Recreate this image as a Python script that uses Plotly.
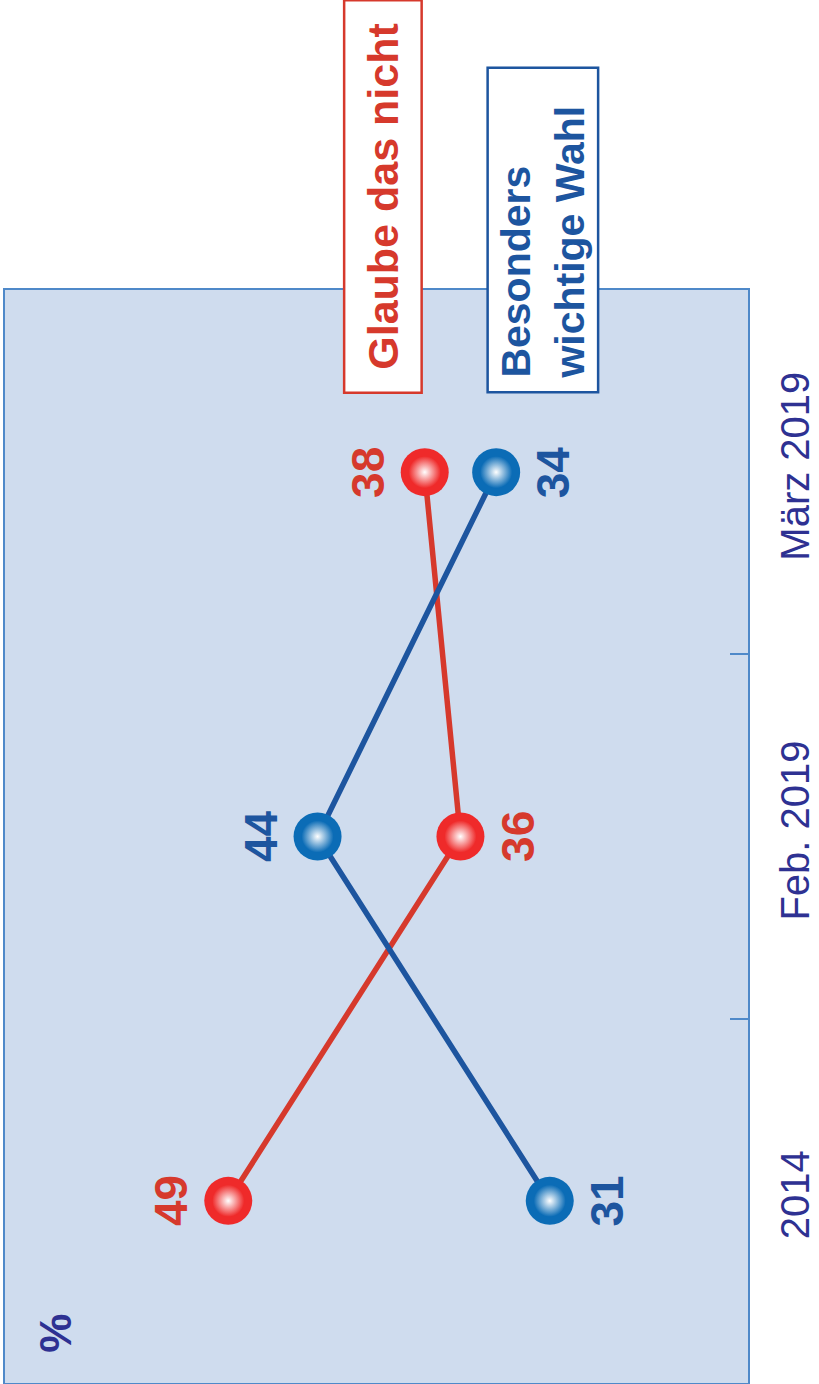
import plotly.graph_objects as go

categories = ["2014", "Feb. 2019", "März 2019"]
glaube_nicht = [49, 36, 38]
wichtige_wahl = [31, 44, 34]

RED_LINE = "#d6392c"
RED_MARK = "#ef2a2a"
BLUE_LINE = "#1d559f"
BLUE_MARK = "#0b6cb6"
TICK_COL = "#2e3192"
FRAME = "#4f89c9"

fig = go.Figure()

def add_series(vals, line_col, mark_col):
    fig.add_trace(go.Scatter(x=vals, y=categories, mode="lines",
                             line=dict(color=line_col, width=5.5), hoverinfo="skip"))
    fig.add_trace(go.Scatter(x=vals, y=categories, mode="markers",
                             marker=dict(size=48, color=mark_col, line=dict(width=0)),
                             hoverinfo="skip"))
    fig.add_trace(go.Scatter(x=vals, y=categories, mode="markers",
                             marker=dict(size=32, color=mark_col, line=dict(width=0),
                                         gradient=dict(type="radial", color="white")),
                             hoverinfo="skip"))

add_series(glaube_nicht, RED_LINE, RED_MARK)
add_series(wichtige_wahl, BLUE_LINE, BLUE_MARK)

annotations = []
for i, cat in enumerate(categories):
    r, b = glaube_nicht[i], wichtige_wahl[i]
    # higher value sits further left (reversed axis); labels go on the outer side
    r_shift = -57 if r > b else 57
    b_shift = -57 if b > r else 57
    annotations.append(dict(x=r, y=i, xref="x", yref="y", text=str(r), showarrow=False,
                            textangle=-90, xshift=r_shift, xanchor="center", yanchor="middle",
                            font=dict(family="Liberation Sans", size=46, color=RED_LINE, weight="bold")))
    annotations.append(dict(x=b, y=i, xref="x", yref="y", text=str(b), showarrow=False,
                            textangle=-90, xshift=b_shift, xanchor="center", yanchor="middle",
                            font=dict(family="Liberation Sans", size=46, color=BLUE_LINE, weight="bold")))

annotations.append(dict(x=0.508, y=1.0855, xref="paper", yref="paper", text="Glaube das nicht",
                        showarrow=False, textangle=-90, xanchor="center", yanchor="middle",
                        width=388, height=73, bgcolor="white", bordercolor=RED_LINE,
                        borderwidth=2.5, borderpad=1, align="center",
                        font=dict(family="Liberation Sans", size=43, color=RED_LINE, weight="bold")))
annotations.append(dict(x=0.724, y=1.0553, xref="paper", yref="paper",
                        text="\u00a0Besonders<br>\u00a0wichtige Wahl",
                        showarrow=False, textangle=-90, xanchor="center", yanchor="middle",
                        width=318, height=104, bgcolor="white", bordercolor=BLUE_LINE,
                        borderwidth=2.5, borderpad=2, align="left",
                        font=dict(family="Liberation Sans", size=41, color=BLUE_LINE, weight="bold")))
annotations.append(dict(x=0.067, y=0.0457, xref="paper", yref="paper", text="%",
                        showarrow=False, textangle=-90, xanchor="center", yanchor="middle",
                        font=dict(family="Liberation Sans", size=44, color=TICK_COL, weight="bold")))

fig.update_layout(
    width=819, height=1384,
    margin=dict(l=5, r=71, t=290, b=1),
    paper_bgcolor="white", plot_bgcolor="#cfdcee",
    showlegend=False,
    annotations=annotations,
    xaxis=dict(range=[61.5, 19.9], showgrid=False, zeroline=False, showticklabels=False,
               ticks="", showline=True, mirror=True, linecolor=FRAME, linewidth=1.5,
               automargin=False),
    yaxis=dict(type="category", categoryorder="array", categoryarray=categories,
               range=[-0.5, 2.5], side="right", tickangle=-90, ticks="inside", ticklen=18,
               tickcolor=FRAME, tickwidth=1.5, tickson="boundaries", showgrid=False,
               zeroline=False, showline=True, mirror=True, linecolor=FRAME, linewidth=1.5,
               ticklabelstandoff=11, automargin=False,
               tickfont=dict(family="Liberation Sans", size=40, color=TICK_COL)),
)

fig.write_html("out.html")
